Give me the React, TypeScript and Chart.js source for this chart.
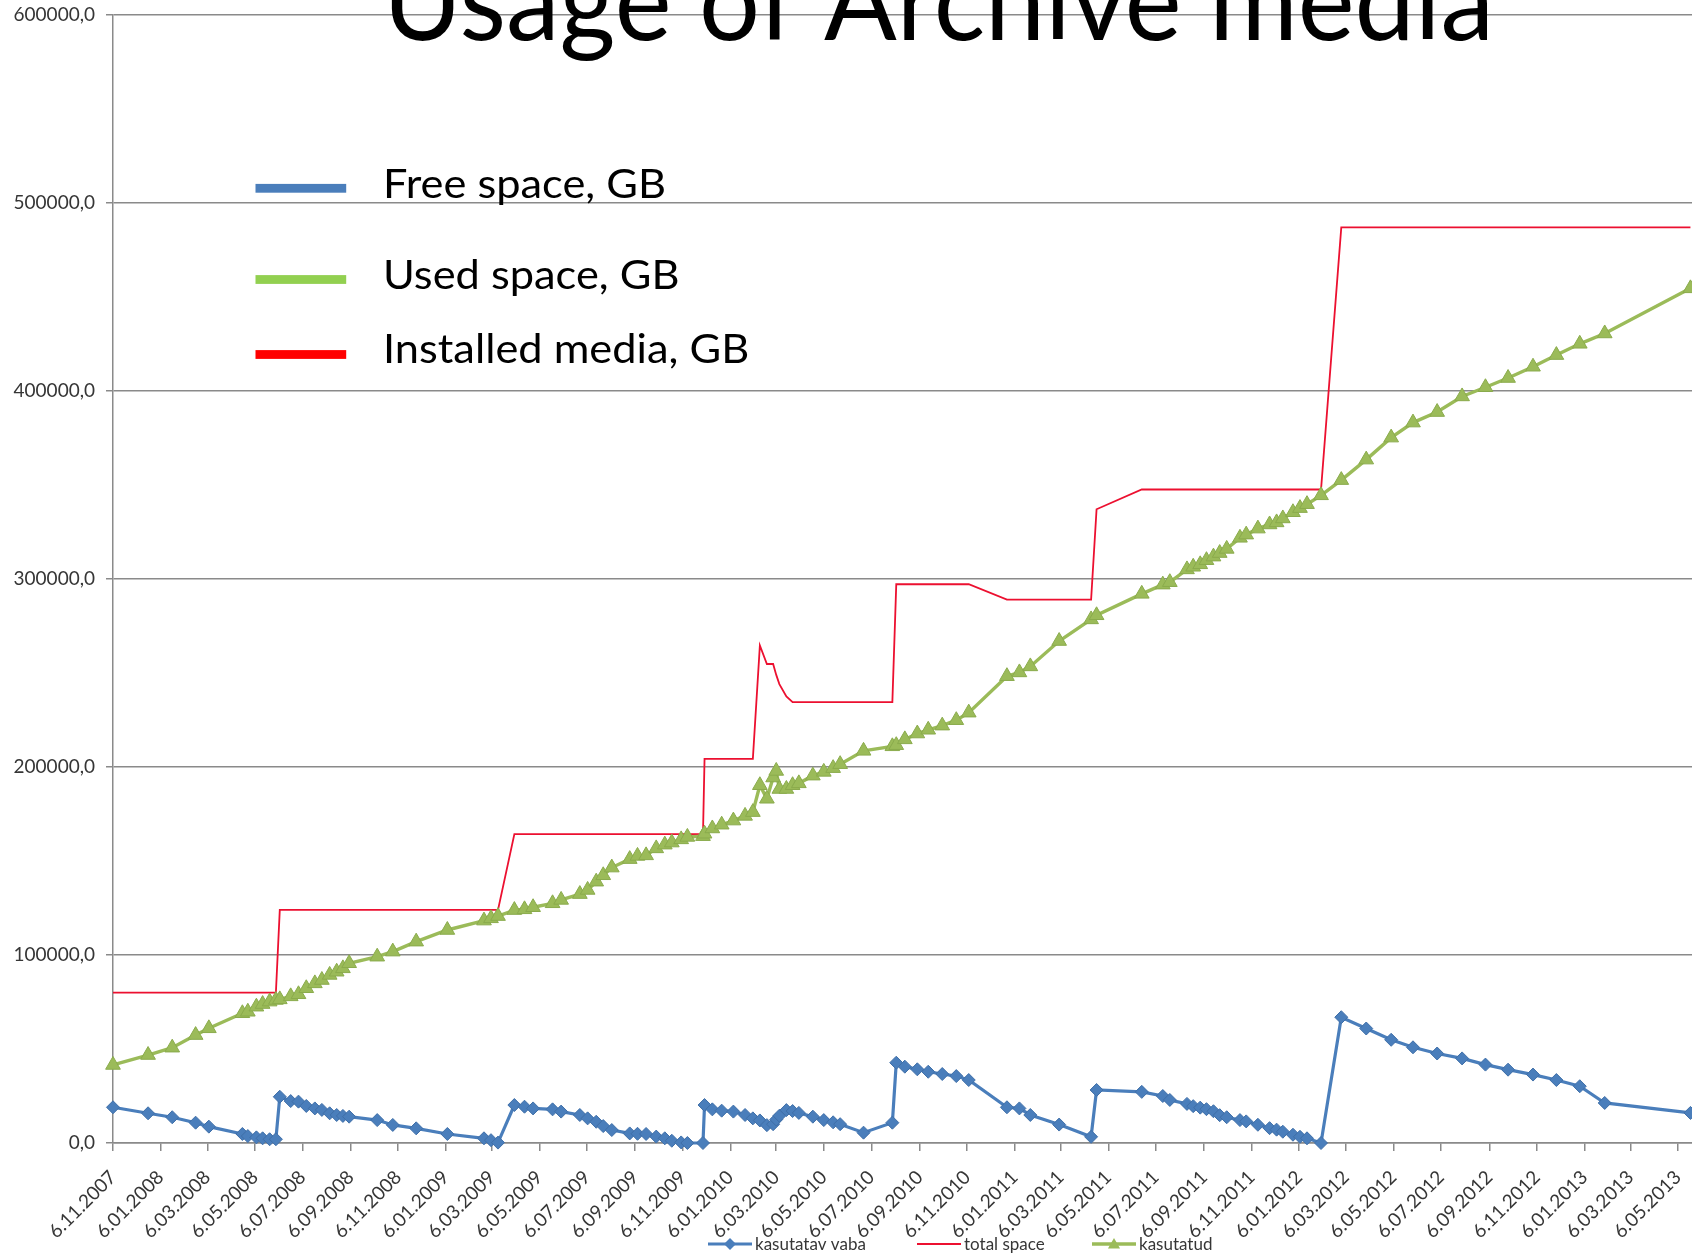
import React, { useEffect, useRef } from 'react';
import { Chart, registerables } from 'chart.js';

Chart.register(...registerables);

// ---------- data ----------
const titleText = 'Usage of Archive media';
const overlayLabels = ['Free space, GB', 'Used space, GB', 'Installed media, GB'];
const seriesLabels = ['kasutatav vaba', 'total space', 'kasutatud'];

const axisStart = '2007-11-06';
const axisEnd = '2013-05-24';

const tickLabels = [
  '6.11.2007', '6.01.2008', '6.03.2008', '6.05.2008', '6.07.2008', '6.09.2008',
  '6.11.2008', '6.01.2009', '6.03.2009', '6.05.2009', '6.07.2009', '6.09.2009',
  '6.11.2009', '6.01.2010', '6.03.2010', '6.05.2010', '6.07.2010', '6.09.2010',
  '6.11.2010', '6.01.2011', '6.03.2011', '6.05.2011', '6.07.2011', '6.09.2011',
  '6.11.2011', '6.01.2012', '6.03.2012', '6.05.2012', '6.07.2012', '6.09.2012',
  '6.11.2012', '6.01.2013', '6.03.2013', '6.05.2013',
];

const yMin = 0;
const yMax = 600000;
const yStep = 100000;

const dates = [
  '2007-11-06', '2007-12-21', '2008-01-21', '2008-02-20', '2008-03-08', '2008-04-20',
  '2008-04-27', '2008-05-08', '2008-05-16', '2008-05-25', '2008-06-02', '2008-06-07',
  '2008-06-21', '2008-07-01', '2008-07-11', '2008-07-22', '2008-07-31', '2008-08-10',
  '2008-08-19', '2008-08-27', '2008-09-04', '2008-10-10', '2008-10-30', '2008-11-29',
  '2009-01-08', '2009-02-24', '2009-03-05', '2009-03-14', '2009-04-04', '2009-04-17',
  '2009-04-28', '2009-05-23', '2009-06-03', '2009-06-27', '2009-07-07', '2009-07-18',
  '2009-07-27', '2009-08-07', '2009-08-30', '2009-09-09', '2009-09-20', '2009-10-03',
  '2009-10-14', '2009-10-23', '2009-11-04', '2009-11-12', '2009-12-02', '2009-12-04',
  '2009-12-14', '2009-12-26', '2010-01-10', '2010-01-25', '2010-02-04', '2010-02-13',
  '2010-02-22', '2010-03-02', '2010-03-06', '2010-03-10', '2010-03-19', '2010-03-27',
  '2010-04-04', '2010-04-22', '2010-05-06', '2010-05-18', '2010-05-27', '2010-06-26',
  '2010-08-02', '2010-08-07', '2010-08-18', '2010-09-03', '2010-09-17', '2010-10-05',
  '2010-10-23', '2010-11-08', '2010-12-27', '2011-01-12', '2011-01-26', '2011-03-04',
  '2011-04-14', '2011-04-21', '2011-06-18', '2011-07-15', '2011-07-24', '2011-08-15',
  '2011-08-23', '2011-09-01', '2011-09-09', '2011-09-18', '2011-09-26', '2011-10-05',
  '2011-10-22', '2011-10-30', '2011-11-14', '2011-11-29', '2011-12-08', '2011-12-16',
  '2011-12-29', '2012-01-07', '2012-01-16', '2012-02-03', '2012-02-29', '2012-04-01',
  '2012-05-03', '2012-05-31', '2012-07-01', '2012-08-02', '2012-09-01', '2012-09-30',
  '2012-11-01', '2012-12-01', '2012-12-31', '2013-02-01', '2013-05-22',
];

const usedSpace = [
  41500, 46800, 50700, 57400, 61000, 69000,
  69800, 72500, 73900, 75200, 76100, 76400,
  78000, 79100, 82300, 84900, 86700, 89400,
  91100, 92900, 95600, 99100, 101800, 107100,
  113300, 118300, 119500, 120700, 123900, 124300,
  125400, 127500, 129300, 132400, 134600, 139000,
  142400, 146500, 151000, 152700, 153000, 156700,
  158700, 159800, 161500, 162800, 163200, 164500,
  167300, 169300, 171500, 174000, 176000, 190300,
  183100, 194400, 197900, 188300, 188300, 190300,
  191300, 195400, 197400, 199400, 201500, 208600,
  211000, 211600, 214700, 217800, 219800, 222000,
  224900, 228900, 248300, 250300, 253500, 267000,
  278500, 280700, 292100, 297000, 298300, 305100,
  306500, 307800, 310000, 311900, 313800, 316000,
  321900, 323600, 326800, 329000, 330100, 332200,
  335500, 337700, 339800, 344500, 352600, 363500,
  375200, 383200, 388800, 397100, 402000, 406900,
  412900, 419100, 425100, 430600, 454600,
];

const freeSpace = [
  19000, 15800, 13700, 10800, 8700, 4800,
  3700, 3000, 2500, 2000, 2000, 24600,
  22300, 22000, 19700, 18400, 17600, 15800,
  14900, 14400, 14000, 12200, 9600, 7800,
  4800, 2500, 1500, 200, 20200, 19300,
  18400, 17900, 16700, 14900, 13100, 11300,
  9000, 6900, 5100, 4900, 4800, 3400,
  2500, 1200, 300, 0, 0, 20200,
  17900, 17200, 16700, 14900, 13100, 12000,
  9500, 10000, 12500, 14500, 17500, 17000,
  16000, 14000, 12200, 11000, 10000, 5500,
  10800, 42700, 40600, 39200, 37900, 36700,
  35600, 33500, 19000, 18400, 14900, 9800,
  3300, 28200, 27200, 25000, 22900, 20800,
  19600, 18800, 18000, 16900, 14800, 13700,
  12200, 11500, 9700, 7900, 7100, 6000,
  4400, 3300, 2500, 0, 66900, 60900,
  54900, 50900, 47600, 45000, 41700, 39000,
  36400, 33500, 30200, 21300, 16000,
];

const totalSpace = [
  80000, 80000, 80000, 80000, 80000, 80000,
  80000, 80000, 80000, 80000, 80000, 124000,
  124000, 124000, 124000, 124000, 124000, 124000,
  124000, 124000, 124000, 124000, 124000, 124000,
  124000, 124000, 124000, 124000, 164300, 164300,
  164300, 164300, 164300, 164300, 164300, 164300,
  164300, 164300, 164300, 164300, 164300, 164300,
  164300, 164300, 164300, 164300, 164300, 204300,
  204300, 204300, 204300, 204300, 204300, 264600,
  254800, 254800, 249000, 244100, 237500, 234500,
  234500, 234500, 234500, 234500, 234500, 234500,
  234500, 297200, 297200, 297200, 297200, 297200,
  297200, 297200, 289000, 289000, 289000, 289000,
  289000, 337100, 347600, 347600, 347600, 347600,
  347600, 347600, 347600, 347600, 347600, 347600,
  347600, 347600, 347600, 347600, 347600, 347600,
  347600, 347600, 347600, 347600, 487000, 487000,
  487000, 487000, 487000, 487000, 487000, 487000,
  487000, 487000, 487000, 487000, 487000,
];

// ---------- helpers ----------
const DAY = 86400000;
const isoToDay = (s: string) => {
  const [y, m, d] = s.split('-').map(Number);
  return Date.UTC(y, m - 1, d) / DAY;
};
const dmyToDay = (s: string) => {
  const [d, m, y] = s.split('.').map(Number);
  return Date.UTC(y, m - 1, d) / DAY;
};
const tickValues = tickLabels.map(dmyToDay);

const BLUE = '#4a7ebb';
const RED = '#ec1030';
const GREEN = '#9bbb59';
const overlayColors = ['#4a7ebb', '#92d050', '#ff0000'];
const GRID = '#8a8a8a';
const TEXT = '#363636';
const FONT = 'Lato, "Open Sans", "DejaVu Sans", sans-serif';

function drawDiamond(ctx: CanvasRenderingContext2D, x: number, y: number, r: number, color: string) {
  ctx.beginPath();
  ctx.moveTo(x - r, y);
  ctx.lineTo(x, y - r);
  ctx.lineTo(x + r, y);
  ctx.lineTo(x, y + r);
  ctx.closePath();
  ctx.fillStyle = color;
  ctx.fill();
}
function drawTriangle(ctx: CanvasRenderingContext2D, x: number, y: number, r: number, color: string) {
  ctx.beginPath();
  for (let k = 0; k < 3; k++) {
    const a = (k * 2 * Math.PI) / 3;
    const px = x + Math.sin(a) * r;
    const py = y - Math.cos(a) * r;
    if (k === 0) ctx.moveTo(px, py);
    else ctx.lineTo(px, py);
  }
  ctx.closePath();
  ctx.fillStyle = color;
  ctx.fill();
}

const zeroPadding = (scale: any) => {
  scale.paddingTop = 0;
  scale.paddingBottom = 0;
  scale.paddingLeft = 0;
  scale.paddingRight = 0;
};

const decorPlugin = {
  id: 'decor',
  afterDraw(chart: any) {
    const ctx: CanvasRenderingContext2D = chart.ctx;

    // Title (cropped at top like the reference)
    ctx.save();
    ctx.font = `112px ${FONT}`;
    ctx.fillStyle = '#000000';
    ctx.textBaseline = 'alphabetic';
    ctx.textAlign = 'left';
    const tw = ctx.measureText(titleText).width;
    ctx.translate(383, 40);
    ctx.scale(1111 / tw, 1);
    ctx.fillText(titleText, 0, 0);
    ctx.restore();

    // Overlay legend (upper-left)
    ctx.save();
    ctx.font = `41px ${FONT}`;
    ctx.textBaseline = 'alphabetic';
    const w0 = ctx.measureText(overlayLabels[0]).width;
    const sx = 283 / w0;
    const swatchY = [188.3, 279.5, 354.5];
    const baseY = [197.5, 288.5, 363];
    overlayLabels.forEach((lab, i) => {
      ctx.fillStyle = overlayColors[i];
      ctx.fillRect(255.5, swatchY[i] - 4.4, 90.7, 8.8);
      ctx.save();
      ctx.fillStyle = '#000000';
      ctx.translate(383, baseY[i]);
      ctx.scale(sx, 1);
      ctx.fillText(lab, 0, 0);
      ctx.restore();
    });
    ctx.restore();

    // Bottom legend (chart series)
    ctx.save();
    ctx.font = `17px ${FONT}`;
    ctx.textBaseline = 'middle';
    ctx.textAlign = 'left';
    const starts = [708, 917, 1092];
    const ly = 1244;
    chart.data.datasets.forEach((ds: any, i: number) => {
      const x0 = starts[i];
      ctx.strokeStyle = ds.borderColor;
      ctx.lineWidth = ds.borderWidth;
      ctx.beginPath();
      ctx.moveTo(x0, ly);
      ctx.lineTo(x0 + 44, ly);
      ctx.stroke();
      if (ds.pointStyle === 'rectRot') drawDiamond(ctx, x0 + 22, ly, 6, ds.pointBackgroundColor);
      if (ds.pointStyle === 'triangle') drawTriangle(ctx, x0 + 22, ly + 1, 7, ds.pointBackgroundColor);
      ctx.fillStyle = TEXT;
      ctx.fillText(ds.label, x0 + 47, ly + 1);
    });
    ctx.restore();
  },
};

export default function App() {
  const canvasRef = useRef<HTMLCanvasElement | null>(null);

  useEffect(() => {
    const canvas = canvasRef.current;
    if (!canvas) return;

    const mk = (vals: number[]) => dates.map((d, i) => ({ x: isoToDay(d), y: vals[i] }));

    const chart = new Chart(canvas, {
      type: 'line',
      data: {
        datasets: [
          {
            label: seriesLabels[0],
            data: mk(freeSpace),
            borderColor: BLUE,
            backgroundColor: BLUE,
            borderWidth: 3.2,
            pointStyle: 'rectRot',
            pointRadius: 6.5,
            pointBorderWidth: 1,
            pointBackgroundColor: BLUE,
            pointBorderColor: '#3f6fa8',
            tension: 0,
            clip: false,
            order: 3,
          } as any,
          {
            label: seriesLabels[1],
            data: mk(totalSpace),
            borderColor: RED,
            backgroundColor: RED,
            borderWidth: 1.8,
            pointRadius: 0,
            tension: 0,
            clip: false,
            order: 2,
          } as any,
          {
            label: seriesLabels[2],
            data: mk(usedSpace),
            borderColor: GREEN,
            backgroundColor: GREEN,
            borderWidth: 3.4,
            pointStyle: 'triangle',
            pointRadius: 8.5,
            pointBorderWidth: 1,
            pointBackgroundColor: GREEN,
            pointBorderColor: '#8aab4c',
            tension: 0,
            clip: false,
            order: 1,
          } as any,
        ],
      },
      options: {
        responsive: false,
        animation: false,
        events: [],
        layout: { padding: { top: 15, left: 0, right: 0, bottom: 0 }, autoPadding: false } as any,
        plugins: {
          legend: { display: false },
          tooltip: { enabled: false },
          title: { display: false },
        },
        scales: {
          x: {
            type: 'linear',
            min: isoToDay(axisStart),
            max: isoToDay(axisEnd),
            afterFit: (scale: any) => {
              scale.height = 110;
              zeroPadding(scale);
            },
            afterBuildTicks: (scale: any) => {
              scale.ticks = tickValues.map((v) => ({ value: v }));
            },
            grid: {
              drawOnChartArea: false,
              drawTicks: true,
              tickLength: 8,
              color: GRID,
              lineWidth: 1.5,
            },
            border: { display: true, color: GRID, width: 1.5 },
            ticks: {
              autoSkip: false,
              maxRotation: 45,
              minRotation: 45,
              padding: 15,
              color: TEXT,
              font: { family: FONT, size: 19 },
              callback: (_v: any, index: number) => tickLabels[index],
            },
          },
          y: {
            type: 'linear',
            min: yMin,
            max: yMax,
            afterFit: (scale: any) => {
              scale.width = 113;
              zeroPadding(scale);
            },
            grid: {
              drawOnChartArea: true,
              drawTicks: true,
              tickLength: 7,
              color: GRID,
              lineWidth: 1.5,
            },
            border: { display: true, color: GRID, width: 1.5 },
            ticks: {
              stepSize: yStep,
              padding: 11,
              color: TEXT,
              font: { family: FONT, size: 19 },
              callback: (v: any) => Number(v).toFixed(1).replace('.', ','),
            },
          },
        },
      },
      plugins: [decorPlugin],
    } as any);

    return () => {
      chart.destroy();
    };
  }, []);

  return (
    <div style={{ position: 'fixed', left: 0, top: 0, width: 1692, height: 1253, background: '#ffffff', overflow: 'hidden' }}>
      <canvas ref={canvasRef} width={1692} height={1253} style={{ display: 'block', width: 1692, height: 1253 }} />
    </div>
  );
}
